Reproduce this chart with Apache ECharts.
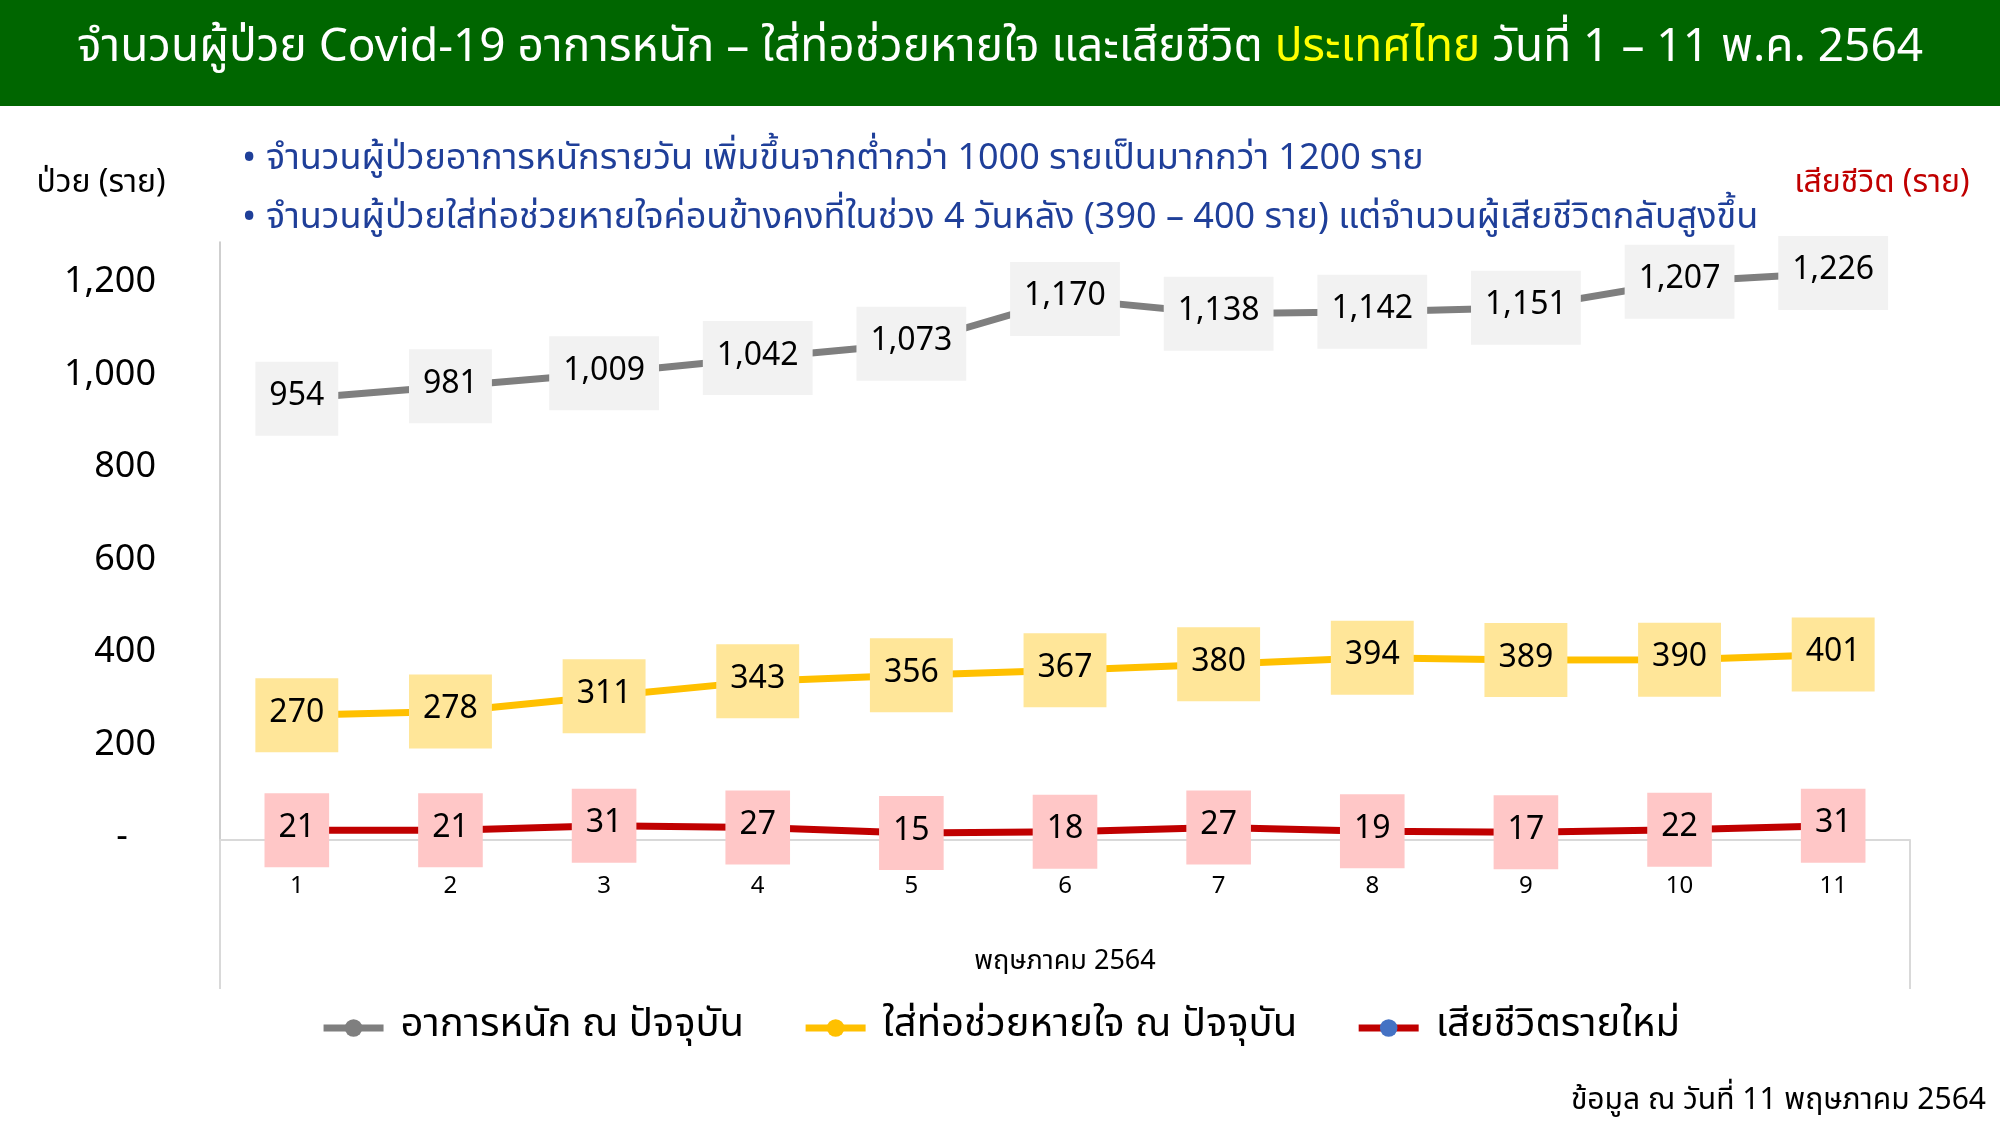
<!DOCTYPE html>
<html>
<head>
<meta charset="utf-8">
<script src="https://cdn.jsdelivr.net/npm/echarts@6/dist/echarts.min.js"></script>
<style>
html,body{margin:0;padding:0;background:#fff;}
#c{width:2000px;height:1125px;}
</style>
</head>
<body>
<div id="c"></div>
<script>
// ---- data ----
const categories = ['1','2','3','4','5','6','7','8','9','10','11'];
const severe = [954, 981, 1009, 1042, 1073, 1170, 1138, 1142, 1151, 1207, 1226];
const ventilator = [270, 278, 311, 343, 356, 367, 380, 394, 389, 390, 401];
const deaths = [21, 21, 31, 27, 15, 18, 27, 19, 17, 22, 31];
const seriesNames = ['อาการหนัก ณ ปัจจุบัน', 'ใส่ท่อช่วยหายใจ ณ ปัจจุบัน', 'เสียชีวิตรายใหม่'];
const titleParts = ['จำนวนผู้ป่วย Covid-19 อาการหนัก – ใส่ท่อช่วยหายใจ และเสียชีวิต ', 'ประเทศไทย', ' วันที่ 1 – 11 พ.ค. 2564'];
const notes = [
  'จำนวนผู้ป่วยอาการหนักรายวัน เพิ่มขึ้นจากต่ำกว่า 1000 รายเป็นมากกว่า 1200 ราย',
  'จำนวนผู้ป่วยใส่ท่อช่วยหายใจค่อนข้างคงที่ในช่วง 4 วันหลัง (390 – 400 ราย) แต่จำนวนผู้เสียชีวิตกลับสูงขึ้น'
];
const leftAxisTitle = 'ป่วย (ราย)';
const rightAxisTitle = 'เสียชีวิต (ราย)';
const xAxisName = 'พฤษภาคม 2564';
const footer = 'ข้อมูล ณ วันที่ 11 พฤษภาคม 2564';

// ---- layout ----
const FONT = 'Tahoma, "Noto Sans Thai", "Liberation Sans", "DejaVu Sans", sans-serif';
const G = {left: 220, right: 90, top: 242, bottom: 285};
const W = 2000, H = 1125;
const axisY = H - G.bottom;
const plotRight = W - G.right;
const groupBottom = 989;

function fmt(v){ return v === 0 ? '-   ' : v.toLocaleString('en-US'); }

function labelCfg(bg){
  return {
    show: true, position: 'inside',
    formatter: p => p.value.toLocaleString('en-US'),
    fontSize: 32, color: '#000', fontFamily: FONT,
    backgroundColor: bg, padding: [20, 14], lineHeight: 34
  };
}

const chart = echarts.init(document.getElementById('c'), null, {renderer: 'canvas'});
chart.setOption({
  backgroundColor: '#fff',
  textStyle: {fontFamily: FONT},
  animation: false,
  title: {
    left: 'center', top: 24,
    text: '{w|' + titleParts[0] + '}{y|' + titleParts[1] + '}{w|' + titleParts[2] + '}',
    textStyle: {
      fontWeight: 'normal',
      rich: {
        w: {color: '#fff', fontSize: 46, fontWeight: 'normal', fontFamily: FONT},
        y: {color: '#ffff00', fontSize: 46, fontWeight: 'normal', fontFamily: FONT}
      }
    },
    z: 10
  },
  grid: {left: G.left, right: G.right, top: G.top, bottom: G.bottom, containLabel: false},
  legend: {
    bottom: 72, left: 'center',
    itemWidth: 60, itemHeight: 22, itemGap: 58,
    lineStyle: {width: 7},
    textStyle: {fontSize: 40, color: '#000', fontFamily: FONT, padding: [0, 0, 0, 12]},
    data: seriesNames
  },
  xAxis: {
    type: 'category', data: categories, boundaryGap: true,
    axisLine: {lineStyle: {color: '#d9d9d9', width: 2}},
    axisTick: {show: false},
    axisLabel: {fontSize: 24, color: '#000', margin: 36, fontFamily: FONT},
    name: xAxisName, nameLocation: 'middle', nameGap: 110,
    nameTextStyle: {fontSize: 27, color: '#000', fontFamily: FONT}
  },
  yAxis: {
    type: 'value', min: 0, max: 1293, interval: 200,
    axisLine: {show: true, lineStyle: {color: '#bfbfbf', width: 1.5}},
    axisTick: {show: false},
    splitLine: {show: false},
    axisLabel: {showMaxLabel: false, fontSize: 36, color: '#000', margin: 64, formatter: fmt, fontFamily: FONT}
  },
  series: [
    {
      name: seriesNames[0], type: 'line', data: severe,
      symbol: 'circle', symbolSize: 12,
      lineStyle: {color: '#7f7f7f', width: 7},
      itemStyle: {color: '#7f7f7f'},
      label: labelCfg('#f2f2f2'), z: 3
    },
    {
      name: seriesNames[1], type: 'line', data: ventilator,
      symbol: 'circle', symbolSize: 12,
      lineStyle: {color: '#ffc000', width: 7},
      itemStyle: {color: '#ffc000'},
      label: labelCfg('#ffe699'), z: 3
    },
    {
      name: seriesNames[2], type: 'line', data: deaths,
      symbol: 'circle', symbolSize: 12,
      lineStyle: {color: '#c00000', width: 7},
      itemStyle: {color: '#4472c4'},
      label: labelCfg('#ffc7c7'), z: 4
    }
  ],
  graphic: [
    {type: 'rect', shape: {x: 0, y: 0, width: W, height: 106}, style: {fill: '#006600'}, z: -1},
    {type: 'line', shape: {x1: G.left, y1: axisY, x2: G.left, y2: groupBottom}, style: {stroke: '#d9d9d9', lineWidth: 2}},
    {type: 'line', shape: {x1: plotRight, y1: axisY, x2: plotRight, y2: groupBottom}, style: {stroke: '#d9d9d9', lineWidth: 2}},
    {type: 'text', x: 242, y: 162, style: {text: '•', font: '38px ' + FONT, fill: '#1f3f99', textVerticalAlign: 'middle'}},
    {type: 'text', x: 266, y: 162, style: {text: notes[0], font: '36px ' + FONT, fill: '#1f3f99', textVerticalAlign: 'middle'}},
    {type: 'text', x: 242, y: 221, style: {text: '•', font: '38px ' + FONT, fill: '#1f3f99', textVerticalAlign: 'middle'}},
    {type: 'text', x: 266, y: 221, style: {text: notes[1], font: '36px ' + FONT, fill: '#1f3f99', textVerticalAlign: 'middle'}},
    {type: 'text', x: 101, y: 186, style: {text: leftAxisTitle, font: '32px ' + FONT, fill: '#000', textAlign: 'center', textVerticalAlign: 'middle'}},
    {type: 'text', x: 1882, y: 186, style: {text: rightAxisTitle, font: '32px ' + FONT, fill: '#c00000', textAlign: 'center', textVerticalAlign: 'middle'}},
    {type: 'text', x: 1986, y: 1103, style: {text: footer, font: '30px ' + FONT, fill: '#000', textAlign: 'right', textVerticalAlign: 'middle'}}
  ]
});
</script>
</body>
</html>
